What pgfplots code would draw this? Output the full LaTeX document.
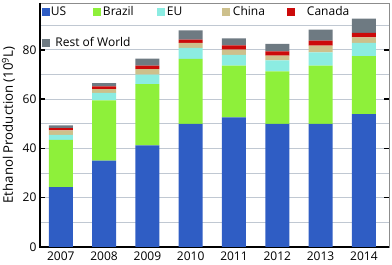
\documentclass[border=0pt]{standalone}
\usepackage{fontspec}
\setmainfont{Open Sans}
\usepackage{pgfplots}
\pgfplotsset{compat=1.18}
\definecolor{cUS}{RGB}{47,93,196}
\definecolor{cBR}{RGB}{142,240,58}
\definecolor{cEU}{RGB}{140,236,226}
\definecolor{cCN}{RGB}{205,192,140}
\definecolor{cCA}{RGB}{204,10,10}
\definecolor{cRW}{RGB}{110,122,130}
\definecolor{gridc}{RGB}{192,200,210}
\begin{document}
\begin{tikzpicture}
\useasboundingbox (-40pt,-18pt) rectangle (352pt,247pt);
\begin{axis}[
  at={(0pt,0pt)}, anchor=south west,
  scale only axis, width=349pt, height=244pt,
  ybar stacked, bar width=24pt,
  xmin=-0.48, xmax=7.58, ymin=0, ymax=99,
  clip=false,
  xtick={0,...,7}, xticklabels={2007,2008,2009,2010,2011,2012,2013,2014},
  xtick style={draw=none},
  x tick label style={yshift=-1.5pt},
  ytick={0,20,40,60,80}, yticklabels={0\hspace{4pt},20,40,60,80},
  minor ytick={10,30,50,70,90},
  ymajorgrids, yminorgrids,
  grid style={color=gridc, line width=0.8pt},
  minor grid style={color=gridc, line width=0.8pt},
  tick align=inside,
  ytick style={black, line width=1.5pt},
  major tick length=5pt, minor tick length=0pt,
  axis line style={color=gray!90, line width=0.6pt},
  tick label style={font=\fontsize{12}{14}\selectfont},
  /pgf/number format/assume math mode=true,
  ylabel={Ethanol Production (10\textsuperscript{9}L)},
  ylabel style={font=\fontsize{13.2}{15}\selectfont, at={(axis description cs:-0.0903,0.5)}, anchor=center},
  legend columns=5,
  legend cell align=left,
  legend style={at={(axis description cs:0.0057,0.985)}, anchor=north west, draw=none, fill=none,
    inner sep=0pt, outer sep=0pt, column sep=0pt, row sep=20pt,
    nodes={inner sep=0pt, outer sep=0pt}, font=\fontsize{12}{14}\selectfont},
  legend image code/.code={\fill[#1] (0pt,-4pt) rectangle (8pt,4pt);},
]
\addplot[fill=cUS, draw=none] coordinates {(0,24.3) (1,35.0) (2,41.2) (3,50.0) (4,52.6) (5,50.0) (6,50.0) (7,53.9)};
\addplot[fill=cBR, draw=none] coordinates {(0,19.2) (1,24.5) (2,24.9) (3,26.3) (4,21.0) (5,21.3) (6,23.6) (7,23.5)};
\addplot[fill=cEU, draw=none] coordinates {(0,2.0) (1,3.0) (2,3.8) (3,4.5) (4,4.4) (5,4.4) (6,5.4) (7,5.4)};
\addplot[fill=cCN, draw=none] coordinates {(0,1.8) (1,1.6) (2,2.3) (3,2.0) (4,2.1) (5,1.9) (6,2.7) (7,2.3)};
\addplot[fill=cCA, draw=none] coordinates {(0,0.9) (1,1.1) (2,1.4) (3,1.3) (4,1.7) (5,1.8) (6,2.0) (7,1.8)};
\addplot[fill=cRW, draw=none] coordinates {(0,1.1) (1,1.3) (2,2.8) (3,3.8) (4,2.8) (5,3.0) (6,4.5) (7,5.8)};
\legend{\makebox[43pt][l]{\hspace{1pt}US},\makebox[56pt][l]{\hspace{2pt}Brazil},\makebox[57pt][l]{\hspace{2pt}EU},\makebox[57pt][l]{\hspace{3pt}China},\hspace{12pt}Canada,\makebox[0pt][l]{\hspace{5pt}Rest of World}}
\draw[black, line width=1.5pt] (rel axis cs:0,1) -- (rel axis cs:0,0) -- (rel axis cs:1,0);
\end{axis}
\end{tikzpicture}
\end{document}
